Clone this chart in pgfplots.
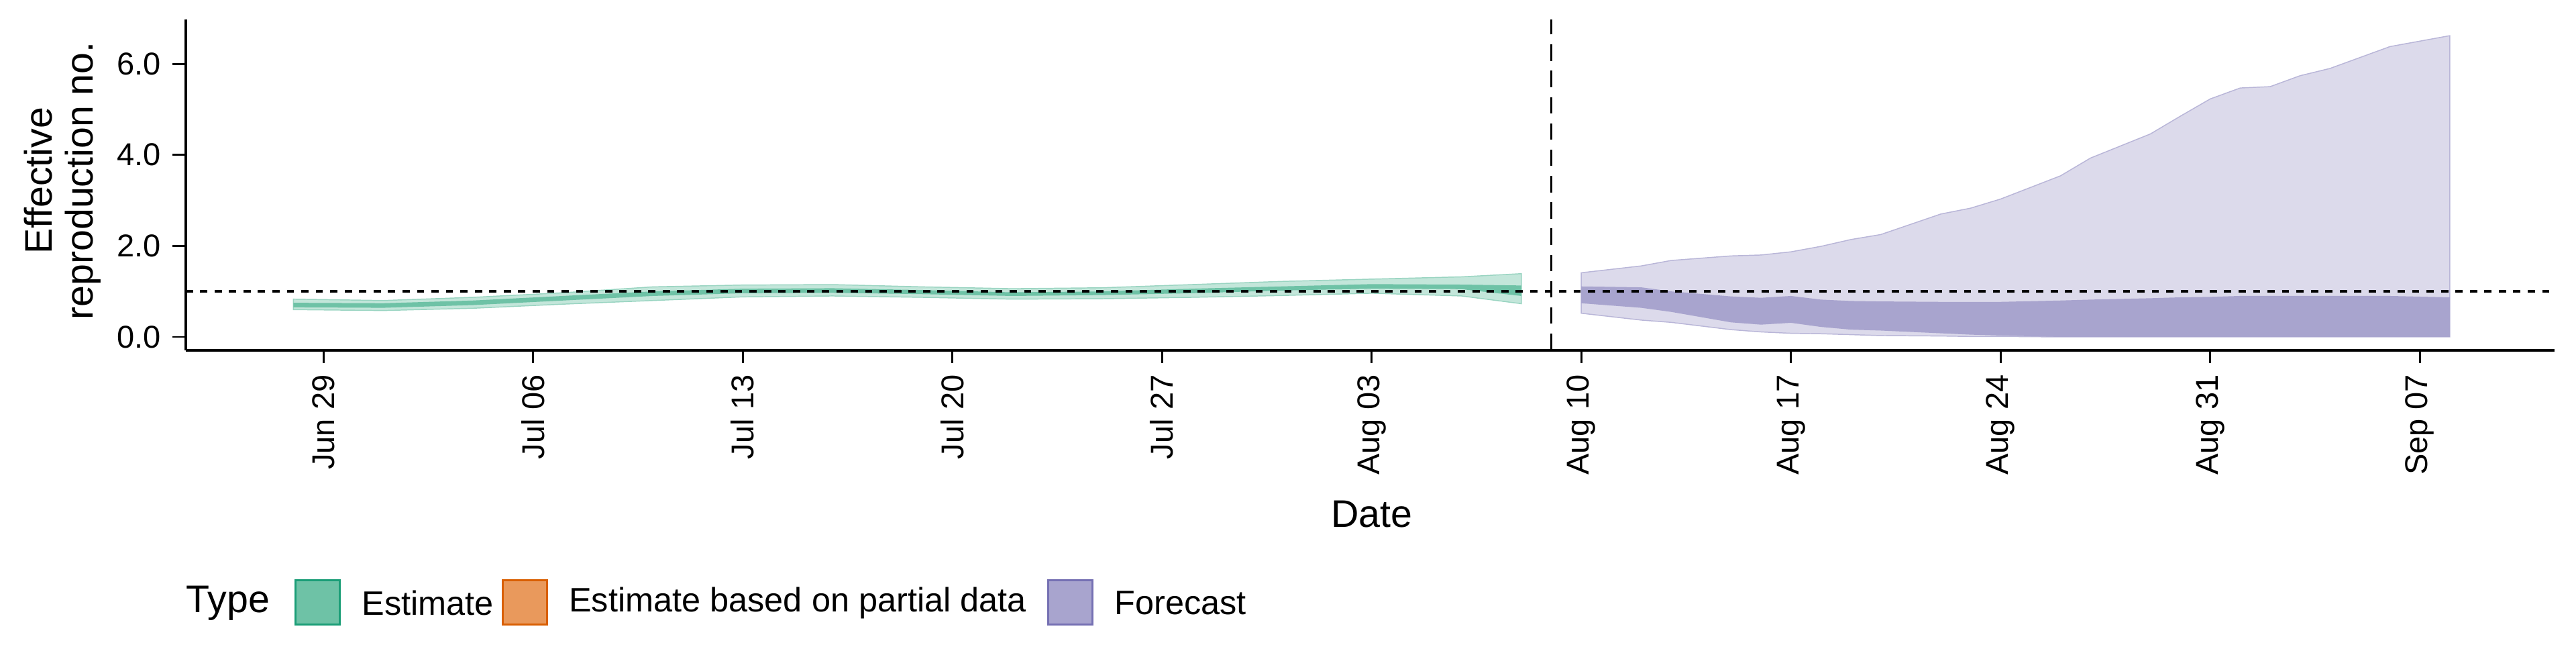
\documentclass[border=0pt]{standalone}
\usepackage{pgfplots}
\pgfplotsset{compat=1.18}
\usepackage{pgfplotstable}
\usepgfplotslibrary{fillbetween}
\usepackage{fontspec}
\setmainfont{Liberation Sans}
\definecolor{estO}{HTML}{C3E6DA}
\definecolor{estI}{HTML}{6EC2A6}
\definecolor{estL}{HTML}{1B9E77}
\definecolor{forO}{HTML}{DCDAEB}
\definecolor{forI}{HTML}{A8A4CE}
\definecolor{forL}{HTML}{7570B3}
\definecolor{parF}{HTML}{E9995C}
\definecolor{parL}{HTML}{D95F02}
\pgfplotstableread{
d lo hi ilo ihi
-1 0.60 0.83 0.65 0.75
2 0.58 0.80 0.64 0.74
5 0.63 0.87 0.70 0.80
8 0.72 0.97 0.80 0.90
11 0.80 1.10 0.90 1.00
14 0.88 1.14 0.96 1.06
17 0.90 1.15 0.97 1.07
20 0.87 1.10 0.94 1.03
23 0.83 1.06 0.90 0.98
26 0.84 1.08 0.92 1.00
29 0.87 1.15 0.96 1.06
32 0.91 1.22 1.02 1.11
35 0.96 1.27 1.06 1.16
38 0.90 1.32 1.05 1.15
40 0.73 1.39 0.90 1.13
}\est
\pgfplotstableread{
d lo hi ilo ihi
42 0.52 1.41 0.74 1.11
44 0.37 1.56 0.64 1.09
45 0.32 1.68 0.55 1.00
47 0.16 1.78 0.32 0.89
48 0.11 1.80 0.27 0.86
49 0.08 1.87 0.31 0.90
50 0.07 1.99 0.22 0.82
51 0.05 2.14 0.16 0.79
52 0.03 2.25 0.14 0.78
54 0.02 2.70 0.08 0.77
55 0.01 2.83 0.05 0.77
56 0.01 3.03 0.03 0.77
58 0.00 3.54 0.00 0.80
59 0.00 3.93 0.00 0.82
61 0.00 4.46 0.00 0.85
62 0.00 4.85 0.00 0.87
63 0.00 5.23 0.00 0.88
64 0.00 5.47 0.00 0.90
65 0.00 5.50 0.00 0.90
66 0.00 5.74 0.00 0.90
67 0.00 5.90 0.00 0.90
69 0.00 6.38 0.00 0.90
71 0.00 6.62 0.00 0.87
}\fc
\begin{document}
\begin{tikzpicture}[x=1pt,y=1pt]
\path (0,0) rectangle (784,-196);
\begin{axis}[at={(56.5pt,-106.5pt)}, anchor=south west, scale only axis,
 width=721pt, height=100.5pt,
 xmin=-4.6, xmax=74.5, ymin=-0.29, ymax=6.97,
 axis x line*=bottom, axis y line*=left, axis line style={line width=0.8pt,-},
 tick align=outside, tick style={black, line width=0.6pt},
 major tick length=4pt,
 xtick={0,7,...,70},
 xticklabels={Jun 29,Jul 06,Jul 13,Jul 20,Jul 27,Aug 03,Aug 10,Aug 17,Aug 24,Aug 31,Sep 07},
 x tick label style={rotate=90, anchor=east, font=\fontsize{9.6}{11}\selectfont},
 ytick={0,2,4,6},
 yticklabels={0.0,2.0,4.0,6.0},
 y tick label style={font=\fontsize{9.6}{11}\selectfont},
 clip=false]
\addplot[draw=none, name path=elo] table[x=d,y=lo]{\est};
\addplot[draw=none, name path=ehi] table[x=d,y=hi]{\est};
\addplot[draw=none, name path=eilo] table[x=d,y=ilo]{\est};
\addplot[draw=none, name path=eihi] table[x=d,y=ihi]{\est};
\addplot[estO, draw=estI!70, line width=0.3pt] fill between[of=elo and ehi];
\addplot[estI] fill between[of=eilo and eihi];
\addplot[draw=none, name path=flo] table[x=d,y=lo]{\fc};
\addplot[draw=none, name path=fhi] table[x=d,y=hi]{\fc};
\addplot[draw=none, name path=filo] table[x=d,y=ilo]{\fc};
\addplot[draw=none, name path=fihi] table[x=d,y=ihi]{\fc};
\addplot[forO, draw=forI!80, line width=0.3pt] fill between[of=flo and fhi];
\addplot[forI] fill between[of=filo and fihi];
\draw[black, line width=0.7pt, dash pattern=on 2.2pt off 2.2pt] (axis cs:-4.6,1) -- (axis cs:74.5,1);
\draw[black, line width=0.6pt, dash pattern=on 5pt off 3pt] (axis cs:41,-0.29) -- (axis cs:41,6.97);
\end{axis}
\node[rotate=90, align=center, font=\fontsize{11.7}{12.5}\selectfont] at (19,-55) {Effective\\reproduction no.};
\node[font=\fontsize{11.7}{13}\selectfont] at (417.5,-156.5) {Date};
\node[anchor=west, font=\fontsize{11.7}{13}\selectfont, inner sep=0pt] at (56.5,-183.5) {Type};
\draw[estL, fill=estI, line width=0.6pt] (90,-176.5) rectangle (103.5,-190);
\node[anchor=west, font=\fontsize{10.3}{12}\selectfont, inner sep=0pt] at (110,-183.5) {Estimate};
\draw[parL, fill=parF, line width=0.6pt] (153,-176.5) rectangle (166.5,-190);
\node[anchor=west, font=\fontsize{10.3}{12}\selectfont, inner sep=0pt] at (173,-183.5) {Estimate based on partial data};
\draw[forL, fill=forI, line width=0.6pt] (319,-176.5) rectangle (332.5,-190);
\node[anchor=west, font=\fontsize{10.3}{12}\selectfont, inner sep=0pt] at (339,-183.5) {Forecast};
\end{tikzpicture}
\end{document}
